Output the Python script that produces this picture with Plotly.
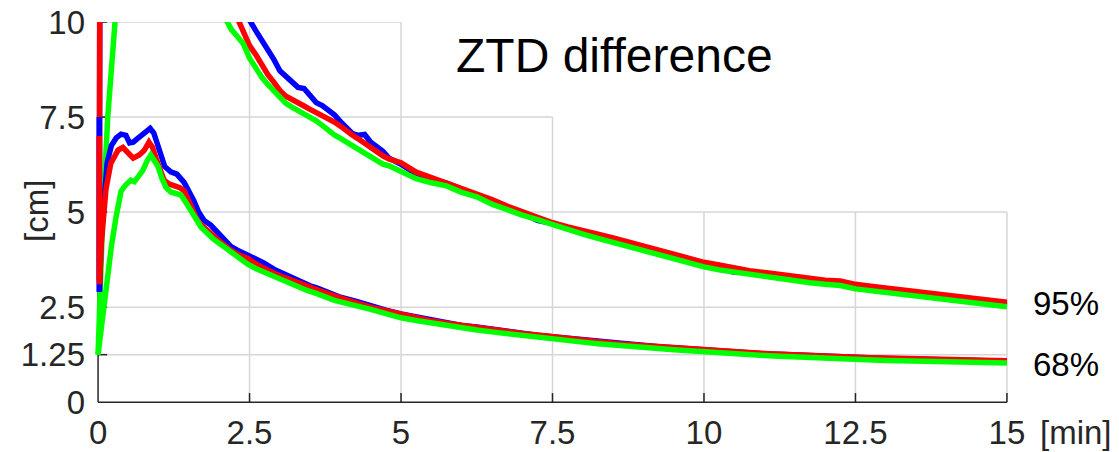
import plotly.graph_objects as go

# ---------------- data ----------------
# 95 % curves: head (near-vertical start), mid section and tail
T95_MID = [2.2, 2.3, 2.4, 2.5, 2.6, 2.7, 2.8, 2.9, 3.0, 3.1, 3.2, 3.3, 3.4, 3.5, 3.6,
           3.7, 3.8, 3.9, 4.0, 4.1, 4.2, 4.3, 4.4, 4.5, 4.6, 4.7, 4.8, 4.9, 5.0]
T_TAIL = [5.25, 5.5, 5.75, 6.0, 6.25, 6.5, 6.75, 7.0, 7.25, 7.5, 7.75, 8.0, 8.25, 8.5,
          8.75, 9.0, 9.25, 9.5, 9.75, 10.0, 10.25, 10.5, 10.75, 11.0, 11.25, 11.5, 11.75,
          12.0, 12.25, 12.5, 12.75, 13.0, 13.25, 13.5, 13.75, 14.0, 14.25, 14.5, 14.75, 15.0]

blue95_head_t = [0.02, 0.03, 0.6, 1.2, 1.8]
blue95_head_y = [2.9, 12.5, 16.5, 15.0, 12.8]
blue95_mid = [11.6, 11.0, 10.5, 10.05, 9.78, 9.52, 9.31, 9.02, 8.72, 8.56, 8.40, 8.28, 8.25,
              8.06, 7.88, 7.80, 7.69, 7.56, 7.38, 7.24, 7.06, 7.02, 7.04, 6.84, 6.74, 6.60,
              6.42, 6.35, 6.26]
blue95_tail = [6.00, 5.86, 5.76, 5.60, 5.46, 5.28, 5.12, 4.97, 4.78, 4.70, 4.57, 4.47, 4.38,
               4.27, 4.16, 4.05, 3.93, 3.83, 3.73, 3.62, 3.52, 3.42, 3.41, 3.36, 3.30, 3.25,
               3.20, 3.15, 3.12, 3.04, 2.98, 2.94, 2.89, 2.84, 2.79, 2.74, 2.70, 2.65, 2.61, 2.56]

red95_head_t = [0.02, 0.03, 0.6, 1.2, 1.8]
red95_head_y = [3.2, 13.0, 16.0, 14.2, 11.9]
red95_mid = [10.5, 10.1, 9.72, 9.38, 9.15, 8.88, 8.62, 8.42, 8.20, 8.05, 7.95, 7.86, 7.79,
             7.70, 7.62, 7.55, 7.46, 7.37, 7.26, 7.12, 7.02, 6.92, 6.80, 6.72, 6.60, 6.48,
             6.40, 6.35, 6.30]
red95_tail = [6.05, 5.91, 5.78, 5.63, 5.50, 5.33, 5.16, 5.01, 4.86, 4.72, 4.61, 4.50, 4.42,
              4.32, 4.21, 4.10, 3.99, 3.88, 3.79, 3.68, 3.61, 3.53, 3.46, 3.41, 3.36, 3.30,
              3.25, 3.21, 3.19, 3.10, 3.05, 3.00, 2.95, 2.90, 2.86, 2.81, 2.76, 2.71, 2.67, 2.63]

green95_head_t = [0.0, 0.08, 0.16, 0.28, 0.5, 1.2, 1.8]
green95_head_y = [1.25, 5.0, 7.5, 10.0, 12.5, 13.2, 11.0]
green95_mid = [9.80, 9.62, 9.42, 9.05, 8.78, 8.55, 8.36, 8.18, 8.00, 7.86, 7.76, 7.68, 7.60,
               7.50, 7.40, 7.28, 7.14, 7.03, 6.94, 6.84, 6.74, 6.64, 6.55, 6.46, 6.34, 6.26,
               6.22, 6.14, 6.08]
green95_tail = [5.88, 5.77, 5.69, 5.52, 5.40, 5.21, 5.05, 4.92, 4.80, 4.67, 4.53, 4.42, 4.31,
                4.20, 4.08, 3.98, 3.86, 3.76, 3.66, 3.56, 3.48, 3.42, 3.35, 3.30, 3.24, 3.19,
                3.14, 3.10, 3.07, 2.98, 2.93, 2.88, 2.83, 2.78, 2.73, 2.68, 2.64, 2.59, 2.55, 2.51]

# 68 % curves
T68_TAIL = [4.25, 4.5, 4.75, 5.0, 5.25, 5.5, 5.75, 6.0, 6.25, 6.5, 6.75, 7.0, 7.25, 7.5,
            7.75, 8.0, 8.25, 8.5, 8.75, 9.0, 9.25, 9.5, 9.75, 10.0, 10.25, 10.5, 10.75, 11.0,
            11.25, 11.5, 11.75, 12.0, 12.25, 12.5, 12.75, 13.0, 13.25, 13.5, 13.75, 14.0,
            14.25, 14.5, 14.75, 15.0]

blue68_head_t = [0.02, 0.025, 0.05, 0.1, 0.15, 0.22, 0.3, 0.38, 0.46, 0.52, 0.58, 0.64, 0.72,
                 0.8, 0.86, 0.92, 0.98, 1.04, 1.1, 1.2, 1.3, 1.42, 1.5, 1.58, 1.66, 1.75, 1.86,
                 1.95, 2.05, 2.19, 2.3, 2.41, 2.55, 2.74, 2.9, 3.05, 3.2, 3.35, 3.5, 3.62, 3.75,
                 3.9, 4.0]
blue68_head_y = [7.5, 2.9, 4.3, 5.5, 6.3, 6.75, 6.95, 7.05, 7.02, 6.82, 6.84, 6.92, 7.02,
                 7.12, 7.2, 7.08, 6.8, 6.5, 6.2, 6.06, 6.0, 5.78, 5.55, 5.3, 5.0, 4.78, 4.66,
                 4.52, 4.33, 4.1, 4.0, 3.92, 3.82, 3.66, 3.5, 3.38, 3.26, 3.18, 3.06, 3.0, 2.92,
                 2.82, 2.76]
blue68_tail = [2.66, 2.53, 2.42, 2.32, 2.24, 2.15, 2.09, 2.02, 1.98, 1.92, 1.86, 1.82, 1.76,
               1.72, 1.68, 1.63, 1.59, 1.56, 1.52, 1.49, 1.46, 1.43, 1.40, 1.37, 1.34, 1.32,
               1.30, 1.27, 1.26, 1.24, 1.22, 1.20, 1.19, 1.17, 1.16, 1.15, 1.14, 1.13, 1.12,
               1.11, 1.10, 1.10, 1.09, 1.08]

red68_head_t = [0.02, 0.025, 0.05, 0.1, 0.13, 0.21, 0.27, 0.33, 0.41, 0.49, 0.58, 0.68, 0.76,
                0.84, 0.9, 0.96, 1.02, 1.09, 1.17, 1.25, 1.35, 1.42, 1.5, 1.58, 1.65, 1.72,
                1.81, 1.91, 2.03, 2.19, 2.31, 2.47, 2.64, 2.8, 2.97, 3.15, 3.29, 3.45, 3.6,
                3.75, 3.9, 4.0]
red68_head_y = [7.0, 3.1, 4.1, 5.2, 5.6, 6.28, 6.5, 6.63, 6.7, 6.56, 6.42, 6.5, 6.62, 6.84,
                6.7, 6.4, 6.1, 5.84, 5.74, 5.71, 5.64, 5.56, 5.3, 5.0, 4.75, 4.64, 4.5, 4.39,
                4.2, 4.0, 3.88, 3.78, 3.6, 3.48, 3.34, 3.24, 3.15, 3.05, 2.98, 2.88, 2.8, 2.74]
red68_tail = [2.62, 2.50, 2.41, 2.30, 2.23, 2.14, 2.08, 2.02, 1.97, 1.91, 1.86, 1.81, 1.77,
              1.72, 1.67, 1.63, 1.60, 1.55, 1.52, 1.49, 1.46, 1.43, 1.40, 1.37, 1.35, 1.32,
              1.30, 1.28, 1.26, 1.24, 1.23, 1.21, 1.19, 1.18, 1.17, 1.16, 1.15, 1.14, 1.13,
              1.12, 1.11, 1.11, 1.10, 1.09]

green68_head_t = [0.0, 0.06, 0.13, 0.22, 0.3, 0.38, 0.46, 0.54, 0.6, 0.66, 0.74, 0.81, 0.87,
                  0.93, 0.99, 1.05, 1.12, 1.2, 1.3, 1.37, 1.45, 1.53, 1.62, 1.7, 1.8, 1.91,
                  2.05, 2.19, 2.33, 2.47, 2.62, 2.8, 2.97, 3.13, 3.29, 3.45, 3.6, 3.75, 3.9, 4.0]
green68_head_y = [1.25, 2.1, 2.95, 4.1, 4.9, 5.55, 5.72, 5.84, 5.8, 5.95, 6.1, 6.35, 6.5,
                  6.35, 6.2, 5.9, 5.65, 5.53, 5.5, 5.45, 5.25, 5.05, 4.78, 4.6, 4.45, 4.28,
                  4.12, 3.95, 3.8, 3.63, 3.5, 3.38, 3.26, 3.13, 3.04, 2.94, 2.86, 2.76, 2.68, 2.64]
green68_tail = [2.55, 2.44, 2.33, 2.22, 2.15, 2.08, 2.01, 1.96, 1.90, 1.85, 1.80, 1.75, 1.71,
                1.67, 1.62, 1.58, 1.54, 1.50, 1.47, 1.44, 1.41, 1.38, 1.35, 1.32, 1.29, 1.27,
                1.25, 1.23, 1.21, 1.19, 1.18, 1.16, 1.14, 1.12, 1.11, 1.10, 1.09, 1.08, 1.07,
                1.06, 1.05, 1.05, 1.04, 1.03]

X_TICKS = [0, 2.5, 5, 7.5, 10, 12.5, 15]
X_TICKTEXT = ["0", "2.5", "5", "7.5", "10", "12.5", "15"]
Y_TICKS = [0, 1.25, 2.5, 5, 7.5, 10]
Y_TICKTEXT = ["0", "1.25", "2.5", "5", "7.5", "10"]

BLUE, RED, GREEN = "#0000FF", "#FF0000", "#00FF00"
AXIS = "#262626"
GRID = "#d6d6d6"
FONT = "Liberation Sans, Arial, sans-serif"
LW = 5.5
TICK_SIZE = 33

series = [
    (blue95_head_t + T95_MID + T_TAIL, blue95_head_y + blue95_mid + blue95_tail, BLUE),
    (red95_head_t + T95_MID + T_TAIL, red95_head_y + red95_mid + red95_tail, RED),
    (green95_head_t + T95_MID + T_TAIL, green95_head_y + green95_mid + green95_tail, GREEN),
    (blue68_head_t + T68_TAIL, blue68_head_y + blue68_tail, BLUE),
    (red68_head_t + T68_TAIL, red68_head_y + red68_tail, RED),
    (green68_head_t + T68_TAIL, green68_head_y + green68_tail, GREEN),
]

fig = go.Figure()
for xs, ys, col in series:
    fig.add_trace(go.Scatter(x=xs, y=ys, mode="lines",
                             line=dict(color=col, width=LW, shape="linear"),
                             showlegend=False, hoverinfo="skip"))

shapes = []
# stepped grid: lines stop short where the title sits
h_grid = [(1.25, 15), (2.5, 15), (5, 15), (7.5, 7.5), (10, 5)]
v_grid = [(2.5, 10), (5, 10), (7.5, 7.5), (10, 5), (12.5, 5), (15, 5)]
for yv, xend in h_grid:
    shapes.append(dict(type="line", xref="x", yref="y", x0=0, x1=xend, y0=yv, y1=yv,
                       line=dict(color=GRID, width=1.5), layer="below"))
for xv, yend in v_grid:
    shapes.append(dict(type="line", xref="x", yref="y", x0=xv, x1=xv, y0=0, y1=yend,
                       line=dict(color=GRID, width=1.5), layer="below"))
# axis lines and inward ticks
shapes.append(dict(type="line", xref="x", yref="y", x0=0, x1=0, y0=0, y1=10,
                   line=dict(color=AXIS, width=1.5), layer="below"))
shapes.append(dict(type="line", xref="x", yref="y", x0=0, x1=15, y0=0, y1=0,
                   line=dict(color=AXIS, width=1.5), layer="below"))
for yv in Y_TICKS[1:]:
    shapes.append(dict(type="line", xref="x", yref="y", x0=0, x1=0.15, y0=yv, y1=yv,
                       line=dict(color=AXIS, width=1.5), layer="below"))
for xv in X_TICKS[1:]:
    shapes.append(dict(type="line", xref="x", yref="y", x0=xv, x1=xv, y0=0, y1=0.24,
                       line=dict(color=AXIS, width=1.5), layer="below"))

annotations = [
    dict(text="ZTD difference", x=8.515, y=9.12, xref="x", yref="y", showarrow=False,
         font=dict(family=FONT, size=48, color="#000000"), xanchor="center", yanchor="middle"),
    dict(text="95%", x=1.0195, y=0.268, xref="paper", yref="paper", showarrow=False,
         font=dict(family=FONT, size=TICK_SIZE, color="#000000"), xanchor="left", yanchor="middle"),
    dict(text="68%", x=1.0195, y=0.109, xref="paper", yref="paper", showarrow=False,
         font=dict(family=FONT, size=TICK_SIZE, color="#000000"), xanchor="left", yanchor="middle"),
    dict(text="[min]", x=1.027, y=-0.068, xref="paper", yref="paper", showarrow=False,
         font=dict(family=FONT, size=TICK_SIZE, color=AXIS), xanchor="left", yanchor="middle"),
    dict(text="[cm]", x=-0.0597, y=0.508, xref="paper", yref="paper", showarrow=False,
         textangle=-90, font=dict(family=FONT, size=TICK_SIZE, color=AXIS),
         xanchor="center", yanchor="middle"),
]

fig.update_layout(
    width=1119, height=452,
    margin=dict(l=92, r=106, t=22, b=46),
    paper_bgcolor="white", plot_bgcolor="white",
    shapes=shapes, annotations=annotations,
    font=dict(family=FONT, size=TICK_SIZE, color=AXIS),
)
fig.update_xaxes(range=[-0.1, 15.1], tickvals=X_TICKS, ticktext=X_TICKTEXT, ticks="",
                 showgrid=False, zeroline=False, showline=False, ticklabelstandoff=4,
                 automargin=False, tickfont=dict(family=FONT, size=TICK_SIZE, color=AXIS))
fig.update_yaxes(range=[-0.1, 10], tickvals=Y_TICKS, ticktext=Y_TICKTEXT, ticks="",
                 showgrid=False, zeroline=False, showline=False, ticklabelstandoff=6,
                 automargin=False, tickfont=dict(family=FONT, size=TICK_SIZE, color=AXIS))

fig.write_html("out.html")
